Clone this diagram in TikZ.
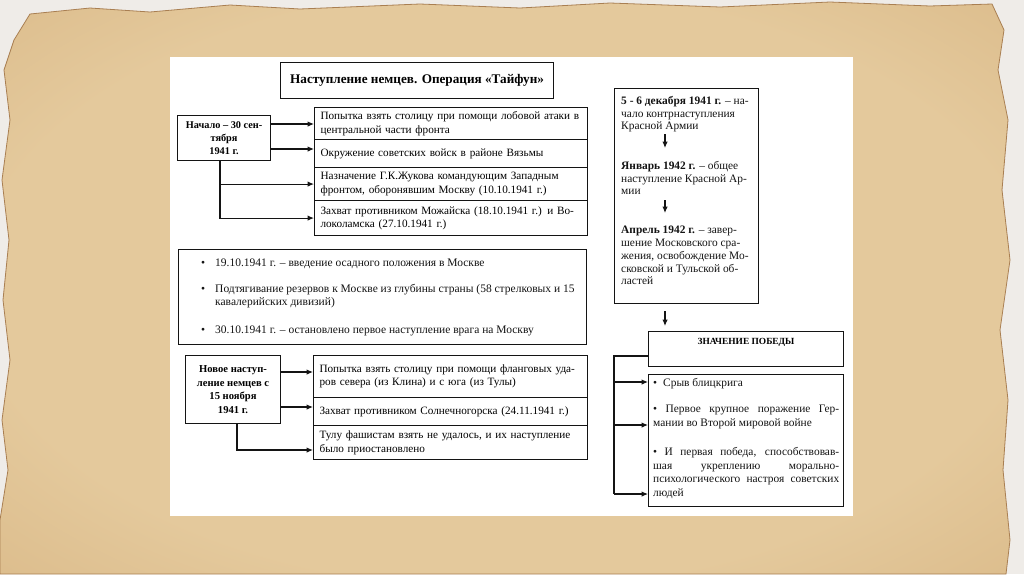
\documentclass[tikz,border=0pt]{standalone}
\usepackage{fontspec}
\setmainfont{Liberation Serif}
\usetikzlibrary{arrows.meta}
\definecolor{ink}{HTML}{141414}
\definecolor{pin}{HTML}{E4C99C}
\definecolor{pmid}{HTML}{D6B380}
\definecolor{pout}{HTML}{AC7A48}
\definecolor{bgc}{HTML}{EFECE8}
\definecolor{tear}{HTML}{A97F52}
\pgfdeclareradialshading{parch}{\pgfpoint{0bp}{0bp}}{color(0bp)=(pin); color(26bp)=(pin); color(44bp)=(pmid); color(72bp)=(pout)}
\newcommand\ftx{\fontsize{11.2}{13.5}\selectfont}
\newcommand\fmd{\fontsize{11.5}{13.5}\selectfont}
\newcommand\frc{\fontsize{11.4}{12.8}\selectfont}
\newcommand\fbl{\fontsize{11.4}{13.5}\selectfont}
\newcommand\fbx{\fontsize{10.3}{13}\selectfont\bfseries}
\begin{document}
\begin{tikzpicture}[x=1pt,y=-1pt,
  box/.style={draw=ink, line width=1.1pt, rectangle, inner ysep=0pt, inner xsep=6pt, anchor=north west},
  rbox/.style={box, text width=#1, align=left, font=\ftx},
  lbox/.style={box, align=center, font=\fbx, inner xsep=0pt},
  arr/.style={draw=ink, line width=1.1pt, -{Latex[length=6.5pt,width=5.5pt]}},
  ln/.style={draw=ink, line width=1.1pt},
  tx/.style={inner sep=0pt, align=left, font=\ftx, text=ink}]
\useasboundingbox (0,0) rectangle (1024,574);
% background
\fill[bgc] (0,0) rectangle (1024,574);
\shade[shading=parch, draw=tear, line width=0.8pt]
  (30,14) -- (90,8) -- (150,12) -- (230,5) -- (300,9) -- (420,4) -- (520,8) -- (610,3) -- (720,7) -- (830,2) -- (930,6) -- (992,4)
  -- (1004,30) -- (998,70) -- (1008,120) -- (1002,190) -- (1010,260) -- (1000,330) -- (1008,400) -- (1003,470) -- (1010,540) -- (1006,574)
  -- (0,574) -- (0,520) -- (8,470) -- (2,420) -- (10,360) -- (3,300) -- (9,240) -- (2,180) -- (10,120) -- (4,70) -- (14,40) -- cycle;
% white panel
\fill[white] (170,57) rectangle (853,516);
% title
\node[lbox, minimum width=273, minimum height=36, font=\fontsize{13.2}{15}\selectfont\bfseries] (title) at (280,62) {Наступление немцев. Операция «Тайфун»};
% group 1
\node[lbox, minimum width=93, minimum height=45] (start) at (177,115) {Начало – 30 сен-\\тября\\1941 г.};
\node[rbox=261, minimum height=32] (b1) at (314,107) {Попытка взять столицу при помощи лобовой атаки в\\центральной части фронта};
\node[rbox=261, minimum height=28] (b2) at (314,139) {Окружение советских войск в районе Вязьмы};
\node[rbox=261, minimum height=33] (b3) at (314,167) {Назначение Г.К.Жукова командующим Западным\\фронтом, оборонявшим Москву (10.10.1941 г.)};
\node[rbox=261, minimum height=35] (b4) at (314,200) {Захват противником Можайска (18.10.1941 г.) и Во-\\локоламска (27.10.1941 г.)};
\draw[arr] (start.east |- 0,124) -- (b1.west |- 0,124);
\draw[arr] (start.east |- 0,149) -- (b2.west |- 0,149);
\coordinate (s1) at (220,0);
\draw[arr] (s1 |- start.south) |- (b3.west);
\draw[arr] (s1 |- start.south) |- (b4.west);
% middle box
\node[box, minimum width=408, minimum height=95] (mid) at (178,249) {};
\node[tx, font=\fmd, anchor=base west] (m1) at (201,266) {\makebox[14pt][l]{•}19.10.1941 г. – введение осадного положения в Москве};
\node[tx, font=\fmd, anchor=base west] (m2) at (201,292) {\makebox[14pt][l]{•}\begin{tabular}[t]{@{}l@{}}Подтягивание резервов к Москве из глубины страны (58 стрелковых и 15\\кавалерийских дивизий)\end{tabular}};
\node[tx, font=\fmd, anchor=base west] (m3) at (201,333) {\makebox[14pt][l]{•}30.10.1941 г. – остановлено первое наступление врага на Москву};
% group 3
\node[lbox, minimum width=95, minimum height=68, font=\fontsize{10.6}{13.5}\selectfont\bfseries] (nov) at (185,355) {Новое наступ-\\ление немцев с\\15 ноября\\1941 г.};
\node[rbox=262, minimum height=42] (c1) at (313,355) {Попытка взять столицу при помощи фланговых уда-\\ров севера (из Клина) и с юга (из Тулы)};
\node[rbox=262, minimum height=28] (c2) at (313,397) {Захват противником Солнечногорска (24.11.1941 г.)};
\node[rbox=262, minimum height=34] (c3) at (313,425) {Тулу фашистам взять не удалось, и их наступление\\было приостановлено};
\draw[arr] (nov.east |- 0,372) -- (c1.west |- 0,372);
\draw[arr] (nov.east |- 0,407) -- (c2.west |- 0,407);
\coordinate (s2) at (237,0);
\draw[arr] (s2 |- nov.south) |- (c3.west |- 0,450);
% right column
\node[box, minimum width=144, minimum height=215, inner sep=0pt] (r1) at (614,88) {};
\node[tx, font=\frc, anchor=north west] (t1) at (621,96) {\textbf{5 - 6 декабря 1941 г.} – на-\\чало контрнаступления\\Красной Армии};
\node[tx, font=\frc, anchor=north west] (t2) at (621,161) {\textbf{Январь 1942 г.} – общее\\наступление Красной Ар-\\мии};
\node[tx, font=\frc, anchor=north west] (t3) at (621,226) {\textbf{Апрель 1942 г.} – завер-\\шение Московского сра-\\жения, освобождение Мо-\\сковской и Тульской об-\\ластей};
\coordinate (ax) at (665,0);
\draw[arr] (ax |- 0,134) -- (ax |- 0,148);
\draw[arr] (ax |- 0,200) -- (ax |- 0,213);
\node[box, minimum width=195, minimum height=35, inner sep=0pt] (zn) at (648,331) {};
\node[inner sep=0pt, font=\fontsize{9.4}{10}\selectfont\bfseries] (znl) at (746,342) {ЗНАЧЕНИЕ ПОБЕДЫ};
\draw[arr] ([yshift=-7pt]ax |- r1.south) -- ([yshift=5pt]ax |- zn.north);
\node[box, minimum width=195, minimum height=132, inner sep=0pt] (bl) at (648,374) {};
\node[tx, font=\fbl, anchor=north west] (bt) at (653,378) {\makebox[10pt][l]{•}Срыв блицкрига\\[13pt]
\makebox[186pt][s]{•\ Первое крупное поражение Гер-}\\
мании во Второй мировой войне\\[16pt]
\makebox[186pt][s]{•\ И первая победа, способствовав-}\\
\makebox[186pt][s]{шая укреплению морально-}\\
\makebox[186pt][s]{психологического настроя советских}\\
людей};
\coordinate (k0) at (614,356);
\coordinate (k1) at (614,382);
\coordinate (k2) at (614,425);
\coordinate (k3) at (614,494);
\draw[ln] (zn.west |- k0) -- (k0) -- (k3);
\draw[arr] (k1) -- (bl.west |- k1);
\draw[arr] (k2) -- (bl.west |- k2);
\draw[arr] (k3) -- (bl.west |- k3);
\end{tikzpicture}
\end{document}
